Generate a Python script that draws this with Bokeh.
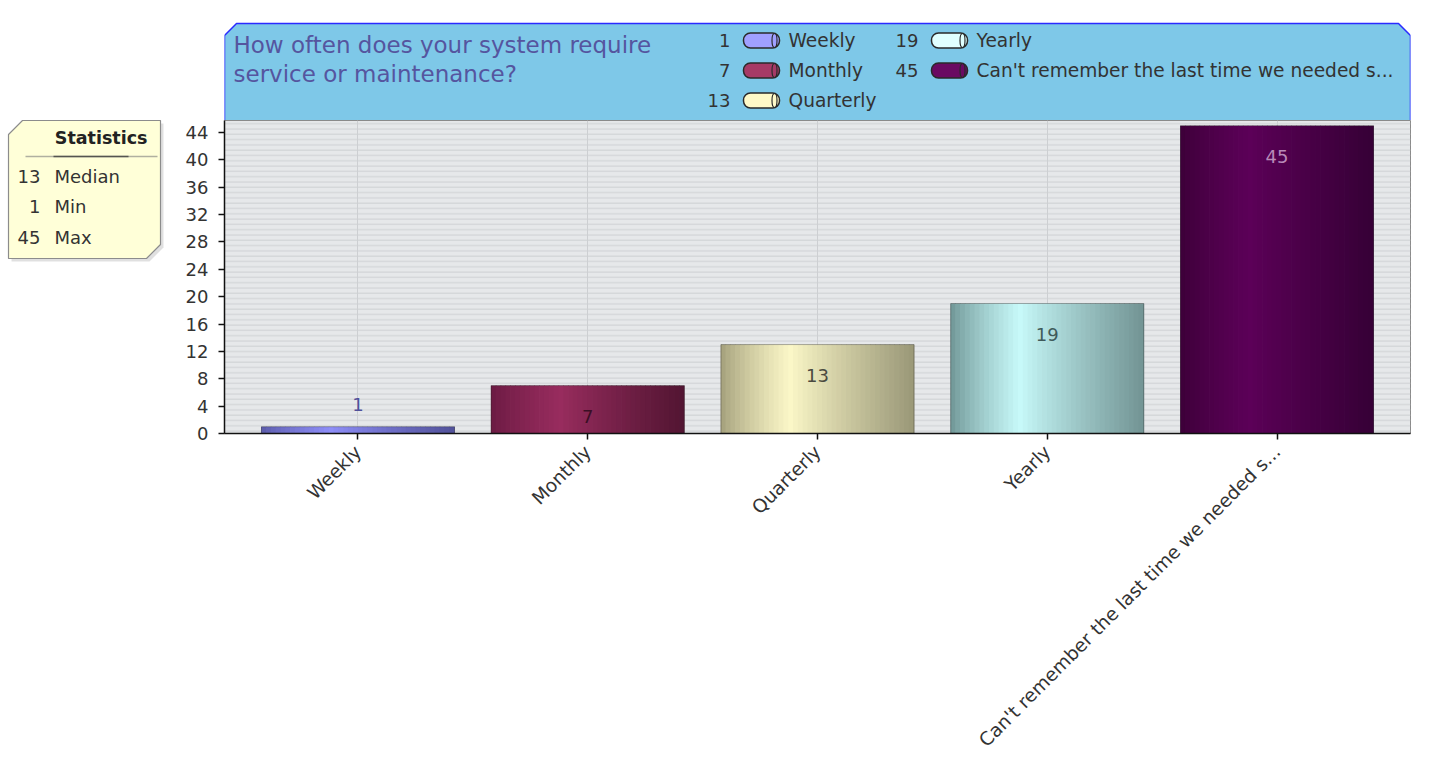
import numpy as np
from bokeh.plotting import figure
from bokeh.models import FactorRange, Range1d, FixedTicker, ColumnDataSource, BoxAnnotation
from bokeh.layouts import row, column
from bokeh.embed import file_html
from bokeh.resources import INLINE
from bokeh.core.properties import value

# ---------------- data ----------------
categories = ["Weekly", "Monthly", "Quarterly", "Yearly",
              "Can't remember the last time we needed s..."]
counts = [1, 7, 13, 19, 45]
y_ticks = [0, 4, 8, 12, 16, 20, 24, 28, 32, 36, 40, 44]
title_lines = ["How often does your system require", "service or maintenance?"]
stat_names = ["Median", "Min", "Max"]

# ---------------- styles ----------------
bar_left = ["#5a5aa8", "#6a1a42", "#a29e7a", "#6e9494", "#3c0038"]
bar_mid = ["#8e8ef8", "#982c5e", "#fcf8c8", "#c8fafa", "#5c0058"]
bar_right = ["#52529a", "#521532", "#9a9878", "#729494", "#360036"]
label_colors = ["#50509a", "#3a0f25", "#4a4a40", "#405a5a", "#b88ab8"]
swatch_colors = ["#a0a0ff", "#a63a66", "#fffac8", "#e0ffff", "#6a0a62"]

FONT = "DejaVu Sans"
TXT = "#333333"


def hex2rgb(h):
    h = h.lstrip("#")
    return tuple(int(h[i:i + 2], 16) for i in (0, 2, 4))


def mix(a, b, t):
    ra, rb = hex2rgb(a), hex2rgb(b)
    c = [round(ra[i] + (rb[i] - ra[i]) * t) for i in range(3)]
    return "#%02x%02x%02x" % tuple(c)


# ---------------- main chart ----------------
FRAME_W, FRAME_H = 1186, 313
LEFT, RIGHT, BOTTOM = 44, 12, 335
W = LEFT + FRAME_W + RIGHT
TOP_Y = 120          # page y of the chart frame top
STATS_W = 224 - LEFT  # page x of the frame left minus the axis border

p = figure(x_range=FactorRange(factors=categories, range_padding=0.0324),
           y_range=Range1d(0, 45.75),
           width=W, height=FRAME_H + BOTTOM,
           output_backend="svg", toolbar_location=None,
           min_border_left=LEFT, min_border_right=RIGHT,
           min_border_top=0, min_border_bottom=BOTTOM)
p.background_fill_color = "#e6e8ea"
p.border_fill_color = "white"
p.outline_line_color = "#8a8a8a"
p.ygrid.grid_line_color = None
p.xgrid.grid_line_color = "#cdcfd2"
p.add_layout(BoxAnnotation(fill_alpha=0, line_color=None,
                           hatch_pattern="horizontal_line", hatch_scale=5.3,
                           hatch_weight=1, hatch_color="#cdd0d3",
                           level="underlay"))

p.yaxis.ticker = FixedTicker(ticks=y_ticks)
p.yaxis.minor_tick_line_color = None
p.xaxis.major_label_orientation = np.pi / 4
for ax in (p.xaxis, p.yaxis):
    ax.axis_line_color = "#111111"
    ax.axis_line_width = 1.5
    ax.major_tick_line_color = "#111111"
    ax.major_tick_line_width = 1.5
    ax.major_tick_in = 0
    ax.major_tick_out = 6
    ax.major_label_text_font = FONT
    ax.major_label_text_color = TXT
p.yaxis.major_label_text_font_size = "18px"
p.xaxis.major_label_text_font_size = "18.6px"
p.yaxis.major_label_standoff = 10
p.xaxis.major_label_standoff = 9

# gradient bars drawn as thin slices of each bar
BAR_W = 0.84
N = 40
sw = BAR_W / N
xs, tops, cols = [], [], []
for cat, cnt, cl, cm, cr in zip(categories, counts, bar_left, bar_mid, bar_right):
    for k in range(N):
        t = (k + 0.5) / N
        if t < 0.36:
            c = mix(cl, cm, (t / 0.36) ** 0.8)
        else:
            c = mix(cm, cr, ((t - 0.36) / 0.64) ** 0.9)
        xs.append((cat, -BAR_W / 2 + (k + 0.5) * sw))
        tops.append(cnt)
        cols.append(c)
strips = ColumnDataSource(dict(x=xs, top=tops, color=cols))
p.vbar(x="x", top="top", bottom=0, width=sw * 1.15, fill_color="color",
       line_color=None, source=strips)
p.vbar(x=categories, top=counts, bottom=0, width=BAR_W, fill_color=None,
       line_color="#222222", line_alpha=0.35, line_width=1)

# value labels
px_per_unit = FRAME_H / 45.75
offs = [31 if c * px_per_unit > 40 else -22 for c in counts]
p.text(x=categories, y=counts, text=[str(c) for c in counts],
       y_offset=offs, text_color=label_colors,
       text_font=value(FONT), text_font_size="18px",
       text_align="center", text_baseline="middle")

# ---------------- header (title + legend) ----------------
# x in pixels from the chart frame's left edge, y in page pixels (downwards)
HH = TOP_Y
h = figure(width=W, height=HH, x_range=Range1d(0, FRAME_W), y_range=Range1d(HH, 0),
           output_backend="svg", toolbar_location=None,
           min_border_left=LEFT, min_border_right=RIGHT,
           min_border_top=0, min_border_bottom=0,
           x_axis_location=None, y_axis_location=None)
h.grid.visible = False
h.outline_line_color = None
h.background_fill_color = "white"
x0, x1, yt, yb, ch = 0, FRAME_W, 23, HH, 12
hx = [x0, x0, x0 + ch, x1 - ch, x1, x1]
hy = [yb, yt + ch, yt, yt, yt + ch, yb]
h.patch(hx, hy, fill_color="#7ec8e8", line_color=None)
h.line(hx, hy, line_color="#2a2aff", line_width=1.5)
h.text(x=[9, 9], y=[44, 73], text=title_lines, text_color="#55559f",
       text_font=value(FONT), text_font_size="23px",
       text_align="left", text_baseline="middle")

col_val_x = [506, 694]
col_sw_x = [519, 707]
col_txt_x = [564, 752]
row_y = [40, 70, 100]
for i, (cat, cnt, sc) in enumerate(zip(categories, counts, swatch_colors)):
    ci, ri = i // 3, i % 3
    yy = row_y[ri]
    h.text(x=[col_val_x[ci]], y=[yy], text=[str(cnt)], text_color=TXT,
           text_font=value(FONT), text_font_size="18px",
           text_align="right", text_baseline="middle")
    h.quad(left=[col_sw_x[ci]], right=[col_sw_x[ci] + 36],
           top=[yy - 7.5], bottom=[yy + 7.5], border_radius=7,
           fill_color=sc, line_color="#2a2a2a", line_width=1.5)
    h.ellipse(x=[col_sw_x[ci] + 31], y=[yy], width=5, height=14,
              fill_color=sc, line_color="#2a2a2a", line_width=1.2)
    h.text(x=[col_txt_x[ci]], y=[yy], text=[cat], text_color=TXT,
           text_font=value(FONT), text_font_size="18.6px",
           text_align="left", text_baseline="middle")

# ---------------- statistics box (page pixel coordinates) ----------------
SW, SH = STATS_W, HH + FRAME_H + BOTTOM
s = figure(width=SW, height=SH, x_range=Range1d(0, SW), y_range=Range1d(SH, 0),
           output_backend="svg", toolbar_location=None, min_border=0,
           x_axis_location=None, y_axis_location=None)
s.grid.visible = False
s.outline_line_color = None
bx = [8, 8, 22, 160, 160, 146]
by = [258, 134, 120, 120, 244, 258]
s.patch([v + 3 for v in bx], [v + 3 for v in by], fill_color="#000000",
        fill_alpha=0.12, line_color=None)
s.patch(bx, by, fill_color="#ffffd8", line_color="#8c8c8c", line_width=1.2)
s.text(x=[147], y=[137], text=["Statistics"], text_color="#222222",
       text_font=value(FONT), text_font_size="17.5px", text_font_style="bold",
       text_align="right", text_baseline="middle")
s.line([25, 157], [156, 156], line_color="#b0b0a0", line_width=1.5)
s.line([53, 128], [156, 156], line_color="#555550", line_width=1.5)
stat_vals = [int(np.median(counts)), int(np.min(counts)), int(np.max(counts))]
s.text(x=[40] * 3, y=[176, 206, 237], text=[str(v) for v in stat_vals],
       text_color=TXT, text_font=value(FONT), text_font_size="18px",
       text_align="right", text_baseline="middle")
s.text(x=[54] * 3, y=[176, 206, 237], text=stat_names,
       text_color=TXT, text_font=value(FONT), text_font_size="18px",
       text_align="left", text_baseline="middle")

layout = row(s, column(h, p))
open("out.html", "w").write(file_html(layout, INLINE))
